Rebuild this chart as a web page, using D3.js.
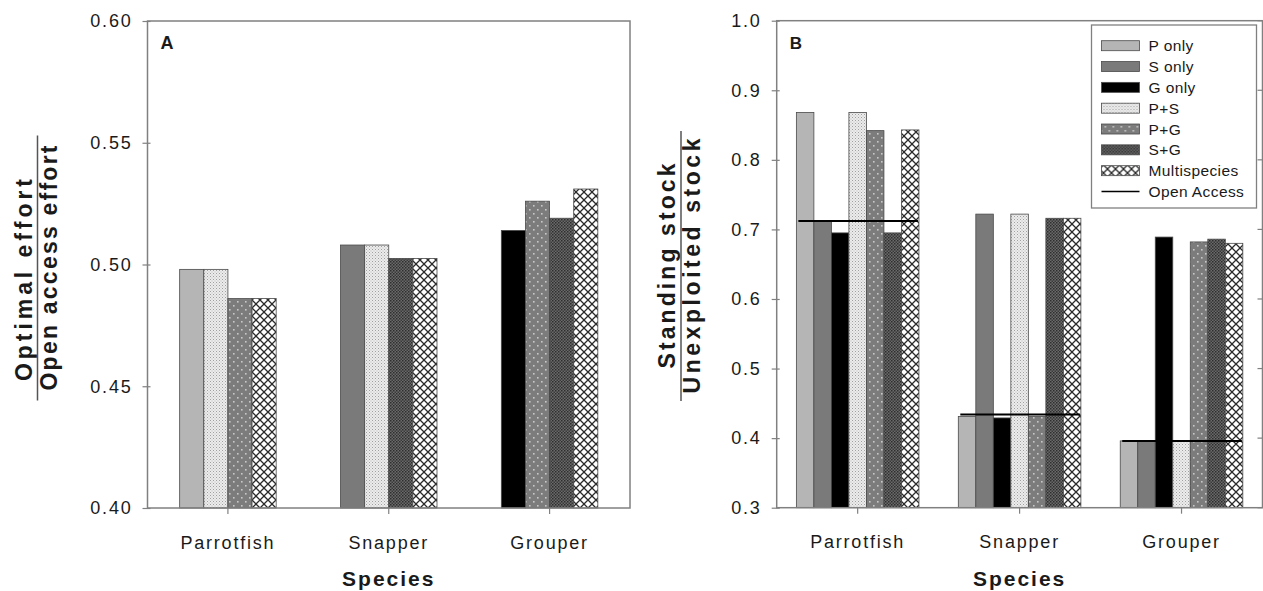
<!DOCTYPE html>
<html>
<head>
<meta charset="utf-8">
<script src="https://cdn.jsdelivr.net/npm/d3@7"></script>
<style>
  body { margin: 0; background: #fff; }
  text { font-family: Arial, "Liberation Sans", sans-serif; fill: #1a1a1a; }
</style>
</head>
<body>
<div id="chart"></div>
<script>
// data
var species = ["Parrotfish", "Snapper", "Grouper"];
var scenarios = ["P only", "S only", "G only", "P+S", "P+G", "S+G", "Multispecies"];

// panel A: optimal effort / open access effort (only the scenarios that harvest the species)
var effortScenarios = [
  ["P only", "P+S", "P+G", "Multispecies"],
  ["S only", "P+S", "S+G", "Multispecies"],
  ["G only", "P+G", "S+G", "Multispecies"]
];
var effortValues = [
  [0.498, 0.498, 0.486, 0.486],
  [0.508, 0.508, 0.5025, 0.5025],
  [0.514, 0.526, 0.519, 0.531]
];

// panel B: standing stock / unexploited stock, one array per species (scenario order)
var stockParrotfish = [0.868, 0.712, 0.695, 0.868, 0.842, 0.695, 0.843];
var stockSnapper = [0.431, 0.722, 0.429, 0.722, 0.431, 0.716, 0.716];
var stockGrouper = [0.396, 0.396, 0.689, 0.396, 0.682, 0.686, 0.680];
var openAccess = [0.712, 0.434, 0.396];

var effortTicks = [0.40, 0.45, 0.50, 0.55, 0.60];
var stockTicks = [0.3, 0.4, 0.5, 0.6, 0.7, 0.8, 0.9, 1.0];

var width = 1263, height = 591;
var axisColor = "#808080";

var svg = d3.select("#chart").append("svg")
    .attr("width", width)
    .attr("height", height)
    .style("background", "#fff");

// fill patterns for the scenarios
var defs = svg.append("defs");

var pPS = defs.append("pattern").attr("id", "pat-ps")
    .attr("patternUnits", "userSpaceOnUse").attr("width", 3).attr("height", 3);
pPS.append("rect").attr("width", 3).attr("height", 3).attr("fill", "#ececec");
pPS.append("rect").attr("width", 1).attr("height", 1).attr("fill", "#a0a0a0");
pPS.append("rect").attr("x", 1.5).attr("y", 1.5).attr("width", 1).attr("height", 1).attr("fill", "#b8b8b8");

var pPG = defs.append("pattern").attr("id", "pat-pg")
    .attr("patternUnits", "userSpaceOnUse").attr("width", 8).attr("height", 8);
pPG.append("rect").attr("width", 8).attr("height", 8).attr("fill", "#7c7c7c");
pPG.append("rect").attr("x", 1).attr("y", 1).attr("width", 1.6).attr("height", 1.6).attr("fill", "#c9c9c9");
pPG.append("rect").attr("x", 5).attr("y", 5).attr("width", 1.6).attr("height", 1.6).attr("fill", "#c9c9c9");

var pSG = defs.append("pattern").attr("id", "pat-sg")
    .attr("patternUnits", "userSpaceOnUse").attr("width", 3).attr("height", 3);
pSG.append("rect").attr("width", 3).attr("height", 3).attr("fill", "#6a6a6a");
pSG.append("rect").attr("width", 1.5).attr("height", 1.5).attr("fill", "#2e2e2e");
pSG.append("rect").attr("x", 1.5).attr("y", 1.5).attr("width", 1.5).attr("height", 1.5).attr("fill", "#3a3a3a");

var pMS = defs.append("pattern").attr("id", "pat-ms")
    .attr("patternUnits", "userSpaceOnUse").attr("width", 8).attr("height", 8);
pMS.append("rect").attr("width", 8).attr("height", 8).attr("fill", "#fff");
pMS.append("path").attr("d", "M0,0L8,8M8,0L0,8")
    .attr("stroke", "#2a2a2a").attr("stroke-width", 1.3);

var fills = {
  "P only": "#b5b5b5",
  "S only": "#7a7a7a",
  "G only": "#000",
  "P+S": "url(#pat-ps)",
  "P+G": "url(#pat-pg)",
  "S+G": "url(#pat-sg)",
  "Multispecies": "url(#pat-ms)"
};

// draws frame, y axis, x axis and labels for one panel
function drawFrame(g, x, y, box, ticks, fmt, letter, letterSize, rightTicks) {
  g.append("rect")
    .attr("x", box.left).attr("y", box.top)
    .attr("width", box.right - box.left).attr("height", box.bottom - box.top)
    .attr("fill", "none").attr("stroke", axisColor).attr("stroke-width", 1.5);

  var ya = g.append("g")
    .attr("transform", "translate(" + box.left + ",0)")
    .call(d3.axisLeft(y).tickValues(ticks).tickFormat(d3.format(fmt)).tickSize(6).tickPadding(9));
  ya.select(".domain").remove();
  ya.selectAll("line").attr("stroke", axisColor).attr("x2", -5).attr("x1", 3).attr("stroke-width", 1.2);
  ya.selectAll("text").style("font-size", "18px").style("letter-spacing", "1.8px").attr("fill", "#1a1a1a");

  if (rightTicks) {
    g.selectAll(".rtick").data(ticks).enter().append("line")
      .attr("x1", box.right - 5).attr("x2", box.right)
      .attr("y1", function(d) { return y(d); }).attr("y2", function(d) { return y(d); })
      .attr("stroke", axisColor).attr("stroke-width", 1.2);
  }

  var xa = g.append("g")
    .attr("transform", "translate(0," + box.bottom + ")")
    .call(d3.axisBottom(x).tickSize(6).tickPadding(22));
  xa.select(".domain").remove();
  xa.selectAll("line").attr("stroke", axisColor).attr("stroke-width", 1.2);
  xa.selectAll("text").style("font-size", "18px").style("letter-spacing", "1.8px").attr("fill", "#1a1a1a");

  g.append("text")
    .attr("x", x(species[1]) + x.bandwidth() / 2)
    .attr("y", 586)
    .attr("text-anchor", "middle")
    .style("font-size", "21px").style("font-weight", "bold").style("letter-spacing", "2px")
    .text("Species");

  g.append("text")
    .attr("x", box.left + 13).attr("y", box.top + 28)
    .style("font-size", letterSize + "px").style("font-weight", "bold")
    .text(letter);
}

// stacked fraction title for the y axis
function drawFraction(g, cx, cy, top, bottom, lenTop, lenBottom, lineLen, topShift) {
  var t = g.append("g").attr("transform", "translate(" + cx + "," + cy + ")rotate(-90)");
  t.append("text").attr("x", -topShift).attr("y", -6)
    .attr("text-anchor", "middle")
    .attr("textLength", lenTop).attr("lengthAdjust", "spacing")
    .style("font-size", "23px").style("font-weight", "bold")
    .text(top);
  t.append("line")
    .attr("x1", -lineLen / 2).attr("x2", lineLen / 2)
    .attr("stroke", "#555").attr("stroke-width", 1.5);
  t.append("text").attr("x", 0).attr("y", 19)
    .attr("text-anchor", "middle")
    .attr("textLength", lenBottom).attr("lengthAdjust", "spacing")
    .style("font-size", "23px").style("font-weight", "bold")
    .text(bottom);
}

// ---------- panel A ----------
var boxA = {left: 147.5, right: 630, top: 21, bottom: 508};
var gA = svg.append("g");

var xA = d3.scaleBand().domain(species)
    .range([boxA.left, boxA.right])
    .paddingInner(0.4).paddingOuter(0.2);
var yA = d3.scaleLinear().domain([0.40, 0.60]).range([boxA.bottom, boxA.top]);

species.forEach(function(sp, i) {
  var inner = d3.scaleBand().domain(effortScenarios[i]).range([0, xA.bandwidth()]);
  gA.selectAll(".barA" + i)
    .data(effortValues[i])
    .enter().append("rect")
      .attr("x", function(d, j) { return xA(sp) + inner(effortScenarios[i][j]); })
      .attr("width", inner.bandwidth())
      .attr("y", function(d) { return yA(d); })
      .attr("height", function(d) { return yA(0.40) - yA(d); })
      .attr("fill", function(d, j) { return fills[effortScenarios[i][j]]; })
      .attr("stroke", "#4a4a4a").attr("stroke-width", 0.8);
});

drawFrame(gA, xA, yA, boxA, effortTicks, ".2f", "A", 18, false);
drawFraction(gA, 37.5, 268, "Optimal effort", "Open access effort", 202, 245, 265, 12);

// ---------- panel B ----------
var boxB = {left: 776.7, right: 1262.5, top: 20.7, bottom: 507.7};
var gB = svg.append("g");

var xB = d3.scaleBand().domain(species)
    .range([boxB.left, boxB.right])
    .paddingInner(0.243).paddingOuter(0.1215);
var yB = d3.scaleLinear().domain([0.3, 1.0]).range([boxB.bottom, boxB.top]);
var innerB = d3.scaleBand().domain(scenarios).range([0, xB.bandwidth()]);

var stockValues = [stockParrotfish, stockSnapper, stockGrouper];
species.forEach(function(sp, i) {
  gB.selectAll(".barB" + i)
    .data(stockValues[i])
    .enter().append("rect")
      .attr("x", function(d, j) { return xB(sp) + innerB(scenarios[j]); })
      .attr("width", innerB.bandwidth())
      .attr("y", function(d) { return yB(d); })
      .attr("height", function(d) { return yB(0.3) - yB(d); })
      .attr("fill", function(d, j) { return fills[scenarios[j]]; })
      .attr("stroke", "#4a4a4a").attr("stroke-width", 0.8);
});

// open access reference lines
gB.selectAll(".oa")
  .data(openAccess)
  .enter().append("line")
    .attr("x1", function(d, i) { return xB(species[i]) + 2; })
    .attr("x2", function(d, i) { return xB(species[i]) + xB.bandwidth() - 1; })
    .attr("y1", function(d) { return yB(d); })
    .attr("y2", function(d) { return yB(d); })
    .attr("stroke", "#000").attr("stroke-width", 2);

drawFrame(gB, xB, yB, boxB, stockTicks, ".1f", "B", 17, true);
drawFraction(gB, 681, 266, "Standing stock", "Unexploited stock", 205, 255, 270, 0);

// legend
var leg = gB.append("g").attr("transform", "translate(1091.5,25)");
leg.append("rect")
  .attr("width", 165).attr("height", 183)
  .attr("fill", "#fff").attr("stroke", axisColor).attr("stroke-width", 1.3);

var legendItems = scenarios.concat(["Open Access"]);
var rowY = d3.scalePoint().domain(legendItems).range([20.7, 166.5]);
legendItems.forEach(function(name) {
  var ly = rowY(name);
  if (name === "Open Access") {
    leg.append("line")
      .attr("x1", 10).attr("x2", 48).attr("y1", ly).attr("y2", ly)
      .attr("stroke", "#000").attr("stroke-width", 1.6);
  } else {
    leg.append("rect")
      .attr("x", 10).attr("y", ly - 5).attr("width", 38).attr("height", 10)
      .attr("fill", fills[name]).attr("stroke", "#4a4a4a").attr("stroke-width", 0.8);
  }
  leg.append("text")
    .attr("x", 57).attr("y", ly + 5.5)
    .style("font-size", "15.5px").style("letter-spacing", "0.4px")
    .text(name);
});
</script>
</body>
</html>
